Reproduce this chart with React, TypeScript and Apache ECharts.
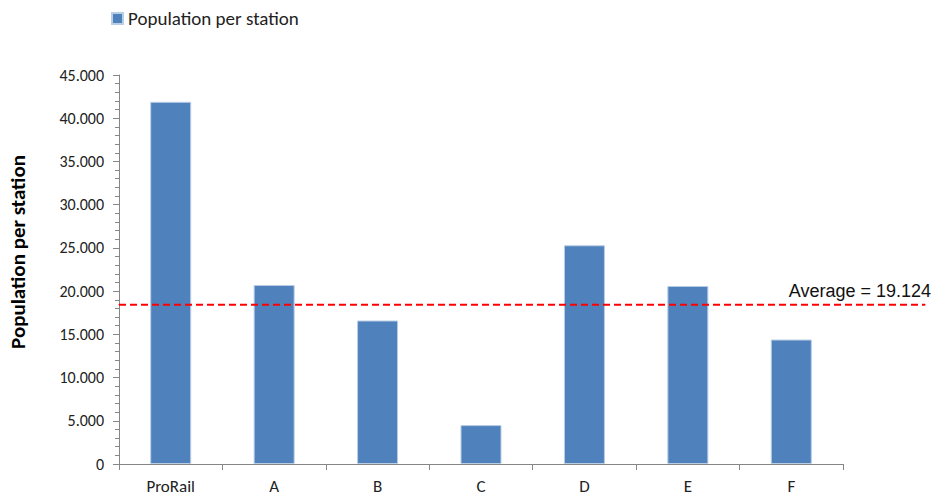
import React, { useEffect, useRef } from "react";
import * as echarts from "echarts";

const categories = ["ProRail", "A", "B", "C", "D", "E", "F"];
const populationPerStation = [41900, 20700, 16600, 4500, 25300, 20600, 14400];
const averageLineValue = 18430;
const averageLabel = "Average = 19.124";
const seriesName = "Population per station";
const yAxisTitle = "Population per station";

const fmt = (v: number) => {
  const s = String(Math.round(v));
  return s.replace(/\B(?=(\d{3})+(?!\d))/g, ".");
};

export default function App() {
  const ref = useRef<HTMLDivElement>(null);
  useEffect(() => {
    if (!ref.current) return;
    document.body.style.margin = "0";
    document.body.style.overflow = "hidden";
    const chart = echarts.init(ref.current, null, { renderer: "svg" });
    const font = "Carlito, Lato, sans-serif";
    chart.setOption({
      animation: false,
      backgroundColor: "#ffffff",
      legend: {
        show: true,
        data: [seriesName],
        left: 106,
        top: 4,
        itemWidth: 11,
        itemHeight: 11,
        itemGap: 10,
        icon: "rect",
        textStyle: { fontFamily: font, fontSize: 19, color: "#222" },
      },
      grid: [
        { left: 119, right: 89, top: 75, bottom: 33, containLabel: false },
        { left: 119, right: 7, top: 75, bottom: 33, containLabel: false },
      ],
      xAxis: [
        {
          type: "category",
          gridIndex: 0,
          data: categories,
          axisLine: { show: true, lineStyle: { color: "#868686", width: 1 } },
          axisTick: { show: true, length: 6, alignWithLabel: false, lineStyle: { color: "#868686" } },
          axisLabel: { fontFamily: font, fontSize: 17, color: "#222", margin: 14 },
          splitLine: { show: false },
        },
        {
          type: "value",
          gridIndex: 1,
          min: 0,
          max: 1,
          show: false,
        },
      ],
      yAxis: [
        {
          type: "value",
          gridIndex: 0,
          min: 0,
          max: 45000,
          interval: 5000,
          axisLine: { show: true, lineStyle: { color: "#868686", width: 1 } },
          axisTick: { show: true, length: 6, lineStyle: { color: "#868686" } },
          minorTick: { show: true, splitNumber: 5, length: 4, lineStyle: { color: "#868686" } },
          splitLine: { show: false },
          axisLabel: {
            fontFamily: font,
            fontSize: 16,
            color: "#222",
            margin: 15,
            formatter: (v: number) => fmt(v),
          },
        },
        {
          type: "value",
          gridIndex: 1,
          min: 0,
          max: 45000,
          show: false,
        },
      ],
      series: [
        {
          name: seriesName,
          type: "bar",
          xAxisIndex: 0,
          yAxisIndex: 0,
          data: populationPerStation,
          barWidth: 41,
          itemStyle: { color: "#4F81BD", borderColor: "#B9CDE5", borderWidth: 1 },
        },
        {
          name: "Average",
          type: "line",
          xAxisIndex: 1,
          yAxisIndex: 1,
          symbol: "circle",
          symbolSize: 1,
          showSymbol: true,
          silent: true,
          itemStyle: { color: "#FF0000" },
          lineStyle: { color: "#FF0000", width: 2, type: [7, 4] },
          data: [
            [0, averageLineValue],
            {
              value: [1, averageLineValue],
              label: {
                show: true,
                position: "top",
                align: "right",
                distance: 4,
                offset: [6, 0],
                formatter: averageLabel,
                fontFamily: "Liberation Sans, Arial, sans-serif",
                fontSize: 18,
                color: "#111",
              },
            },
          ],
        },
      ],
      graphic: [
        {
          type: "text",
          x: 18,
          y: 252,
          rotation: Math.PI / 2,
          style: {
            text: yAxisTitle,
            fontFamily: font,
            fontWeight: "bold",
            fontSize: 21,
            fill: "#000",
            textAlign: "center",
            textVerticalAlign: "middle",
          },
        },
      ],
    });
    return () => chart.dispose();
  }, []);
  return (
    <div
      ref={ref}
      style={{ position: "absolute", left: 0, top: 0, width: 932, height: 497 }}
    />
  );
}
